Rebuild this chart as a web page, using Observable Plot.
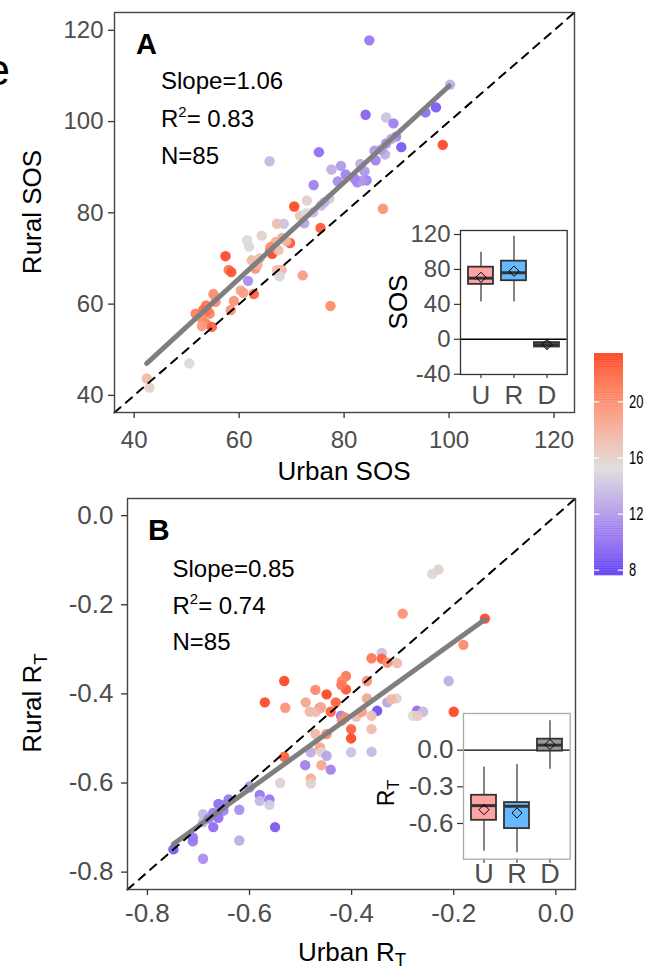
<!DOCTYPE html>
<html><head><meta charset="utf-8">
<script src="https://cdn.jsdelivr.net/npm/d3@7"></script>
<script src="https://cdn.jsdelivr.net/npm/@observablehq/plot@0.6"></script>
<style>
body{margin:0;background:#fff;}
#root{position:relative;width:646px;height:969px;overflow:hidden;background:#fff;font-family:"Liberation Sans",Arial,sans-serif;}
#root > svg, #root > div{position:absolute;}
</style></head><body><div id="root"></div>
<script>
// ---------- data: panel A (SOS) ----------
const urbanSOS = [84.8,100.2,84.1,88.0,89.4,97.5,95.5,98.8,89.9,90.9,
  88.0,85.8,87.8,75.2,65.8,79.4,77.6,80.3,83.1,83.9,
  82.5,84.3,78.8,74.2,87.4,77.2,75.6,72.9,70.5,74.1,
  71.6,72.4,68.5,67.2,75.5,64.3,61.5,61.9,68.2,69.7,
  67.0,65.9,66.3,67.5,57.4,62.4,63.9,58.0,58.5,63.1,
  67.2,68.1,67.7,72.1,61.7,77.4,60.3,55.1,62.8,59.0,
  53.7,51.7,54.4,52.9,53.7,54.8,52.9,58.4,50.5,42.4,
  42.9,54.0,55.5,69.0,72.8,76.2,83.3,86.0,89.0,82.0,
  66.0,63.5,60.8,53.2,87.1];
const ruralSOS = [117.8,108.1,101.5,100.9,99.6,103.1,102.0,94.9,96.7,94.4,
  95.2,93.6,92.8,93.3,91.3,90.3,89.5,88.4,90.7,89.1,
  86.7,87.1,86.9,86.1,80.9,83.1,81.6,82.7,81.4,80.1,
  79.4,77.7,77.6,77.6,76.7,75.0,74.0,72.6,74.5,73.4,
  73.6,71.8,71.0,71.8,70.5,69.6,70.0,67.5,67.0,67.8,
  67.5,67.5,66.1,66.3,65.1,59.6,63.0,62.2,62.2,60.7,
  59.7,57.9,57.9,56.8,55.7,55.0,55.2,58.7,47.0,43.7,
  41.7,58.5,60.5,73.8,79.9,82.3,87.0,91.5,96.2,87.5,
  72.5,68.6,62.5,58.8,93.9];
const tempA = [10.5,13,9.5,14,11,9,10,23,11,9,
  11.5,12,13,10,13.5,12,13,11,13,12,
  11,11,11.5,11,19.5,14.5,13.5,15.8,23,13.5,
  16.5,12.5,14,17,22.5,15.8,15.3,15,18,22.5,
  18,21,23,17,23,17.3,17,21,22.5,19.5,
  17,17.5,15,19,11.5,20,18.5,20,22,19.5,
  21,20.5,20,20,20.5,22,19,19.5,15,17.3,
  16,21,20,17.5,15,13,12,11,12.5,11,
  20,18,19,21.5,12];
const fitSOSx = [42.4, 100.0];
const fitSOSy = [47.0, 107.8];
const sosDomain = [36.25, 123.9];
const sosTicks = [40, 60, 80, 100, 120];

// ---------- data: panel B (R_T) ----------
const urbanRT = [-0.230,-0.242,-0.300,-0.139,-0.181,-0.341,-0.361,-0.341,-0.311,-0.532,
  -0.411,-0.419,-0.411,-0.370,-0.471,-0.449,-0.210,-0.570,-0.530,-0.490,
  -0.431,-0.462,-0.370,-0.330,-0.312,-0.322,-0.482,-0.470,-0.441,-0.350,
  -0.272,-0.260,-0.280,-0.271,-0.200,-0.421,-0.413,-0.391,-0.361,-0.361,
  -0.419,-0.401,-0.401,-0.471,-0.449,-0.462,-0.480,-0.459,-0.449,-0.401,
  -0.361,-0.532,-0.491,-0.459,-0.441,-0.480,-0.480,-0.540,-0.600,-0.580,
  -0.580,-0.561,-0.561,-0.641,-0.661,-0.651,-0.620,-0.671,-0.661,-0.691,
  -0.671,-0.550,-0.620,-0.711,-0.711,-0.749,-0.691,-0.691,-0.680,-0.650,
  -0.600,-0.420,-0.380,-0.460,-0.330];
const ruralRT = [-0.121,-0.131,-0.220,-0.231,-0.290,-0.308,-0.320,-0.321,-0.331,-0.371,
  -0.360,-0.371,-0.390,-0.371,-0.391,-0.401,-0.371,-0.419,-0.431,-0.419,
  -0.419,-0.431,-0.410,-0.419,-0.410,-0.412,-0.440,-0.440,-0.440,-0.438,
  -0.438,-0.440,-0.449,-0.449,-0.440,-0.449,-0.453,-0.451,-0.449,-0.479,
  -0.460,-0.479,-0.500,-0.490,-0.490,-0.520,-0.531,-0.531,-0.539,-0.531,
  -0.530,-0.541,-0.560,-0.560,-0.570,-0.590,-0.601,-0.600,-0.608,-0.627,
  -0.640,-0.637,-0.649,-0.637,-0.647,-0.662,-0.660,-0.667,-0.678,-0.688,
  -0.699,-0.699,-0.729,-0.722,-0.731,-0.749,-0.770,-0.670,-0.680,-0.650,
  -0.610,-0.380,-0.440,-0.430,-0.330];
const tempB = [15.8,15.5,19.5,23,20,14,21,22,17.3,23,
  21,20,22.5,19.5,20,23,13,23,19.5,18.5,
  22,22.5,18.5,12.5,15.8,17.3,17.3,17,22,8.5,
  10,13.5,15.3,16.3,23,11,20,17.3,17,17.3,
  20,22,23,17.3,20,18.5,13,15.8,12.5,14,
  13.5,22,11,18.5,11,18,15.8,15.8,11,10.5,
  13.5,10.5,14.5,10.5,10,11,11.5,10.5,10,13.5,
  10,9,13,10.5,10.5,9,11.5,13.5,11,10.5,
  12,21,19,18,20];
const fitRTx = [-0.749, -0.139];
const fitRTy = [-0.737, -0.233];
const rtDomain = [-0.839, 0.0385];
const rtTicks = [-0.8, -0.6, -0.4, -0.2, 0.0];

// ---------- inset box plots ----------
const boxCats = ["U", "R", "D"];
const boxFill = ["#ffa3a3", "#66b8ff", "#9a9a9a"];
const sosBoxLo   = [42.6, 42.6, -12.5];
const sosBoxQ1   = [62.9, 67.1, -8.8];
const sosBoxMed  = [70.0, 76.2, -6.2];
const sosBoxQ3   = [82.6, 89.5, -3.8];
const sosBoxHi   = [99.8, 118.0, 0.0];
const sosBoxMean = [71.0, 78.0, -6.0];
const sosInsetDomain = [-40.3, 124.6];
const sosInsetTicks = [-40, 0, 40, 80, 120];
const rtBoxLo   = [-0.828, -0.839, -0.156];
const rtBoxQ1   = [-0.574, -0.642, -0.008];
const rtBoxMed  = [-0.454, -0.459, 0.041];
const rtBoxQ3   = [-0.369, -0.429, 0.090];
const rtBoxHi   = [-0.137, -0.117, 0.240];
const rtBoxMean = [-0.487, -0.514, 0.047];
const rtInsetDomain = [-0.892, 0.300];
const rtInsetTicks = [-0.6, -0.3, 0.0];

// ---------- colour scale ----------
const colorDomain = [7.6, 15.2, 23.45];
const colorRange = ["#5a3cf6", "#dcdcdc", "#ff3c1e"];
const legendTicks = [8, 12, 16, 20];

const FONT = "'Liberation Sans', Arial, sans-serif";
const colorOpts = {type: "linear", domain: colorDomain, range: colorRange, interpolate: d3.interpolateLab};
const hy = d => d.toFixed(1);      // hyphen-minus formatting
const plain = d => String(d);
const root = document.getElementById("root");

function place(el, left, top) { el.style.left = left + "px"; el.style.top = top + "px"; root.appendChild(el); }

function mainPlot({u, r, t, fx, fy, dom, ticks, fmt, W, H, m, padX, padY, fs}) {
  const pts = u.map((d, i) => ({u: d, r: r[i], t: t[i]}));
  const fit = fx.map((d, i) => ({x: d, y: fy[i]}));
  const diag = dom.map(d => ({x: d, y: d}));
  return Plot.plot({
    width: W, height: H, marginTop: m.t, marginRight: m.r, marginBottom: m.b, marginLeft: m.l,
    style: {background: "transparent", fontFamily: FONT, overflow: "visible"},
    x: {domain: dom}, y: {domain: dom},
    color: colorOpts,
    marks: [
      Plot.dot(pts, {x: "u", y: "r", fill: "t", r: 5.2, fillOpacity: 0.95}),
      Plot.line(fit, {x: "x", y: "y", stroke: "#7f7f7f", strokeWidth: 5}),
      Plot.line(diag, {x: "x", y: "y", stroke: "#000", strokeWidth: 2, strokeDasharray: "8,7"}),
      Plot.axisX({ticks, tickFormat: fmt, tickSize: 6, tickPadding: padX, fontSize: fs, fill: "#4d4d4d", stroke: "#333", strokeWidth: 1.3, label: null}),
      Plot.axisY({ticks, tickFormat: fmt, tickSize: 6, tickPadding: padY, fontSize: fs, fill: "#4d4d4d", stroke: "#333", strokeWidth: 1.3, label: null}),
      Plot.frame({stroke: "#444", strokeWidth: 1.4})
    ]
  });
}

function insetPlot({lo, q1, med, q3, hi, mean, dom, ticks, fmt, W, H, m, frameStroke, fsY, fsX, padY, padX, tsX}) {
  const rows = boxCats.map((c, i) => ({c, f: boxFill[i], lo: lo[i], q1: q1[i], med: med[i], q3: q3[i], hi: hi[i], mean: mean[i]}));
  return Plot.plot({
    width: W, height: H, marginTop: m.t, marginRight: m.r, marginBottom: m.b, marginLeft: m.l,
    style: {background: "transparent", fontFamily: FONT, overflow: "visible"},
    x: {type: "band", domain: boxCats, paddingInner: 0.25, paddingOuter: 0.225},
    y: {domain: dom},
    color: {type: "identity"},
    marks: [
      Plot.frame({fill: "white", stroke: "none"}),
      Plot.ruleY([0], {stroke: "#000", strokeWidth: 1.4}),
      Plot.ruleX(rows, {x: "c", y1: "lo", y2: "hi", stroke: "#333", strokeWidth: 1.2}),
      Plot.barY(rows, {x: "c", y1: "q1", y2: "q3", fill: "f", stroke: "#333", strokeWidth: 1.8}),
      Plot.tickY(rows, {x: "c", y: "med", stroke: "#333", strokeWidth: 3}),
      Plot.dot(rows, {x: "c", y: "mean", symbol: "diamond2", r: 4.6, stroke: "#000", strokeWidth: 1, fill: "none"}),
      Plot.axisY({ticks, tickFormat: fmt, tickSize: 6, tickPadding: padY, fontSize: fsY, fill: "#4d4d4d", stroke: "#333", strokeWidth: 1.2, label: null}),
      Plot.axisX({tickSize: tsX, tickPadding: padX, fontSize: fsX, fill: "#4d4d4d", stroke: "#333", strokeWidth: 1.2, label: null}),
      Plot.frame({stroke: frameStroke, strokeWidth: 1.3})
    ]
  });
}

// Panel A
const pA = mainPlot({u: urbanSOS, r: ruralSOS, t: tempA, fx: fitSOSx, fy: fitSOSy, dom: sosDomain, ticks: sosTicks, fmt: plain,
  W: 646, H: 485, m: {t: 12, r: 72, b: 73, l: 114}, padX: 12, padY: 5, fs: 24});
place(pA, 0, 0);
// Panel B
const pB = mainPlot({u: urbanRT, r: ruralRT, t: tempB, fx: fitRTx, fy: fitRTy, dom: rtDomain, ticks: rtTicks, fmt: hy,
  W: 646, H: 484, m: {t: 13, r: 71, b: 80, l: 127}, padX: 8, padY: 8, fs: 26});
place(pB, 0, 485);

// Inset A
const iA = insetPlot({lo: sosBoxLo, q1: sosBoxQ1, med: sosBoxMed, q3: sosBoxQ3, hi: sosBoxHi, mean: sosBoxMean,
  dom: sosInsetDomain, ticks: sosInsetTicks, fmt: plain, W: 180.7, H: 188, m: {t: 4, r: 4, b: 40, l: 70},
  frameStroke: "#333", fsY: 24, fsX: 26, padY: 4, padX: 7, tsX: 4});
place(iA, 390, 226);
// Inset B
const iB = insetPlot({lo: rtBoxLo, q1: rtBoxQ1, med: rtBoxMed, q3: rtBoxQ3, hi: rtBoxHi, mean: rtBoxMean,
  dom: rtInsetDomain, ticks: rtInsetTicks, fmt: hy, W: 180.7, H: 189.7, m: {t: 4, r: 4, b: 40, l: 70},
  frameStroke: "#aaaaaa", fsY: 26, fsX: 27, padY: 4, padX: 1, tsX: 4});
place(iB, 393.3, 709.3);

// Colour bar legend (bar drawn by Plot, labels placed with the legend's own y scale)
const legendSteps = d3.range(colorDomain[0], colorDomain[2], 0.05).map(v => ({v}));
const LEG_LEFT = 594, LEG_TOP = 352.7, LEG_W = 29;
const leg = Plot.plot({
  width: LEG_W, height: 222.3, marginTop: 0, marginBottom: 0, marginLeft: 0, marginRight: 0,
  style: {background: "transparent", overflow: "visible"},
  x: {domain: [0, 1], axis: null}, y: {domain: [colorDomain[0], colorDomain[2]], axis: null},
  color: colorOpts,
  marks: [
    Plot.rect(legendSteps, {x1: 0, x2: 1, y1: "v", y2: d => Math.min(d.v + 0.07, colorDomain[2]), fill: "v"}),
    Plot.ruleY(legendTicks, {x1: 0, x2: 0.18, stroke: "white", strokeWidth: 1.2}),
    Plot.ruleY(legendTicks, {x1: 0.82, x2: 1, stroke: "white", strokeWidth: 1.2})
  ]
});
place(leg, LEG_LEFT, LEG_TOP);
const legY = leg.scale("y");

// ---------- text labels (overlay) ----------
const ov = d3.create("svg").attr("width", 646).attr("height", 969)
  .style("pointer-events", "none").style("font-family", FONT).style("overflow", "visible");
function txt(x, y, parts, {size = 24, weight = "normal", anchor = "start", rotate = 0, fill = "#000", length = null} = {}) {
  const t = ov.append("text").attr("transform", `translate(${x},${y}) rotate(${rotate})`)
    .attr("font-size", size).attr("font-weight", weight).attr("text-anchor", anchor).attr("fill", fill);
  if (length) t.attr("textLength", length).attr("lengthAdjust", "spacingAndGlyphs");
  let shift = 0;
  for (const [s, kind] of parts) {
    const sp = t.append("tspan").text(s);
    if (kind === "sup") { sp.attr("font-size", size * 0.62).attr("dy", -size * 0.38 - shift); shift = -size * 0.38; }
    else if (kind === "sub") { sp.attr("font-size", size * 0.72).attr("dy", size * 0.22 - shift); shift = size * 0.22; }
    else { if (shift) sp.attr("dy", -shift); shift = 0; }
  }
}
const panelTags = ["A", "B"];
const statsA = ["Slope=1.06", "0.83", "N=85"];
const statsB = ["Slope=0.85", "0.74", "N=85"];

txt(-14.5, 84.5, [["e"]], {size: 44});
// Panel A texts
txt(136, 54, [[panelTags[0]]], {size: 29, weight: "bold"});
txt(161, 89, [[statsA[0]]], {size: 24});
txt(161, 126.5, [["R"], ["2", "sup"], ["= " + statsA[1]]], {size: 24});
txt(161, 163.5, [[statsA[2]]], {size: 24});
txt(40.5, 212, [["Rural SOS"]], {size: 26, anchor: "middle", rotate: -90});
txt(344, 479.5, [["Urban SOS"]], {size: 26, anchor: "middle"});
txt(406.5, 302, [["SOS"]], {size: 26, anchor: "middle", rotate: -90});
// Panel B texts
txt(148, 540, [[panelTags[1]]], {size: 30, weight: "bold"});
txt(172.5, 577, [[statsB[0]]], {size: 24});
txt(172.5, 613.5, [["R"], ["2", "sup"], ["= " + statsB[1]]], {size: 24});
txt(172.5, 650, [[statsB[2]]], {size: 24});
txt(41, 703, [["Rural R"], ["T", "sub"]], {size: 26, anchor: "middle", rotate: -90});
txt(352, 960.5, [["Urban R"], ["T", "sub"]], {size: 26, anchor: "middle"});
txt(393.5, 793, [["R"], ["T", "sub"]], {size: 23, anchor: "middle", rotate: -90});
// Colour bar labels
for (const v of legendTicks) {
  const s = String(v);
  txt(LEG_LEFT + LEG_W + 6, LEG_TOP + legY.apply(v) + 6.5, [[s]], {size: 18, length: s.length * 7.2});
}
place(ov.node(), 0, 0);
</script></body></html>
